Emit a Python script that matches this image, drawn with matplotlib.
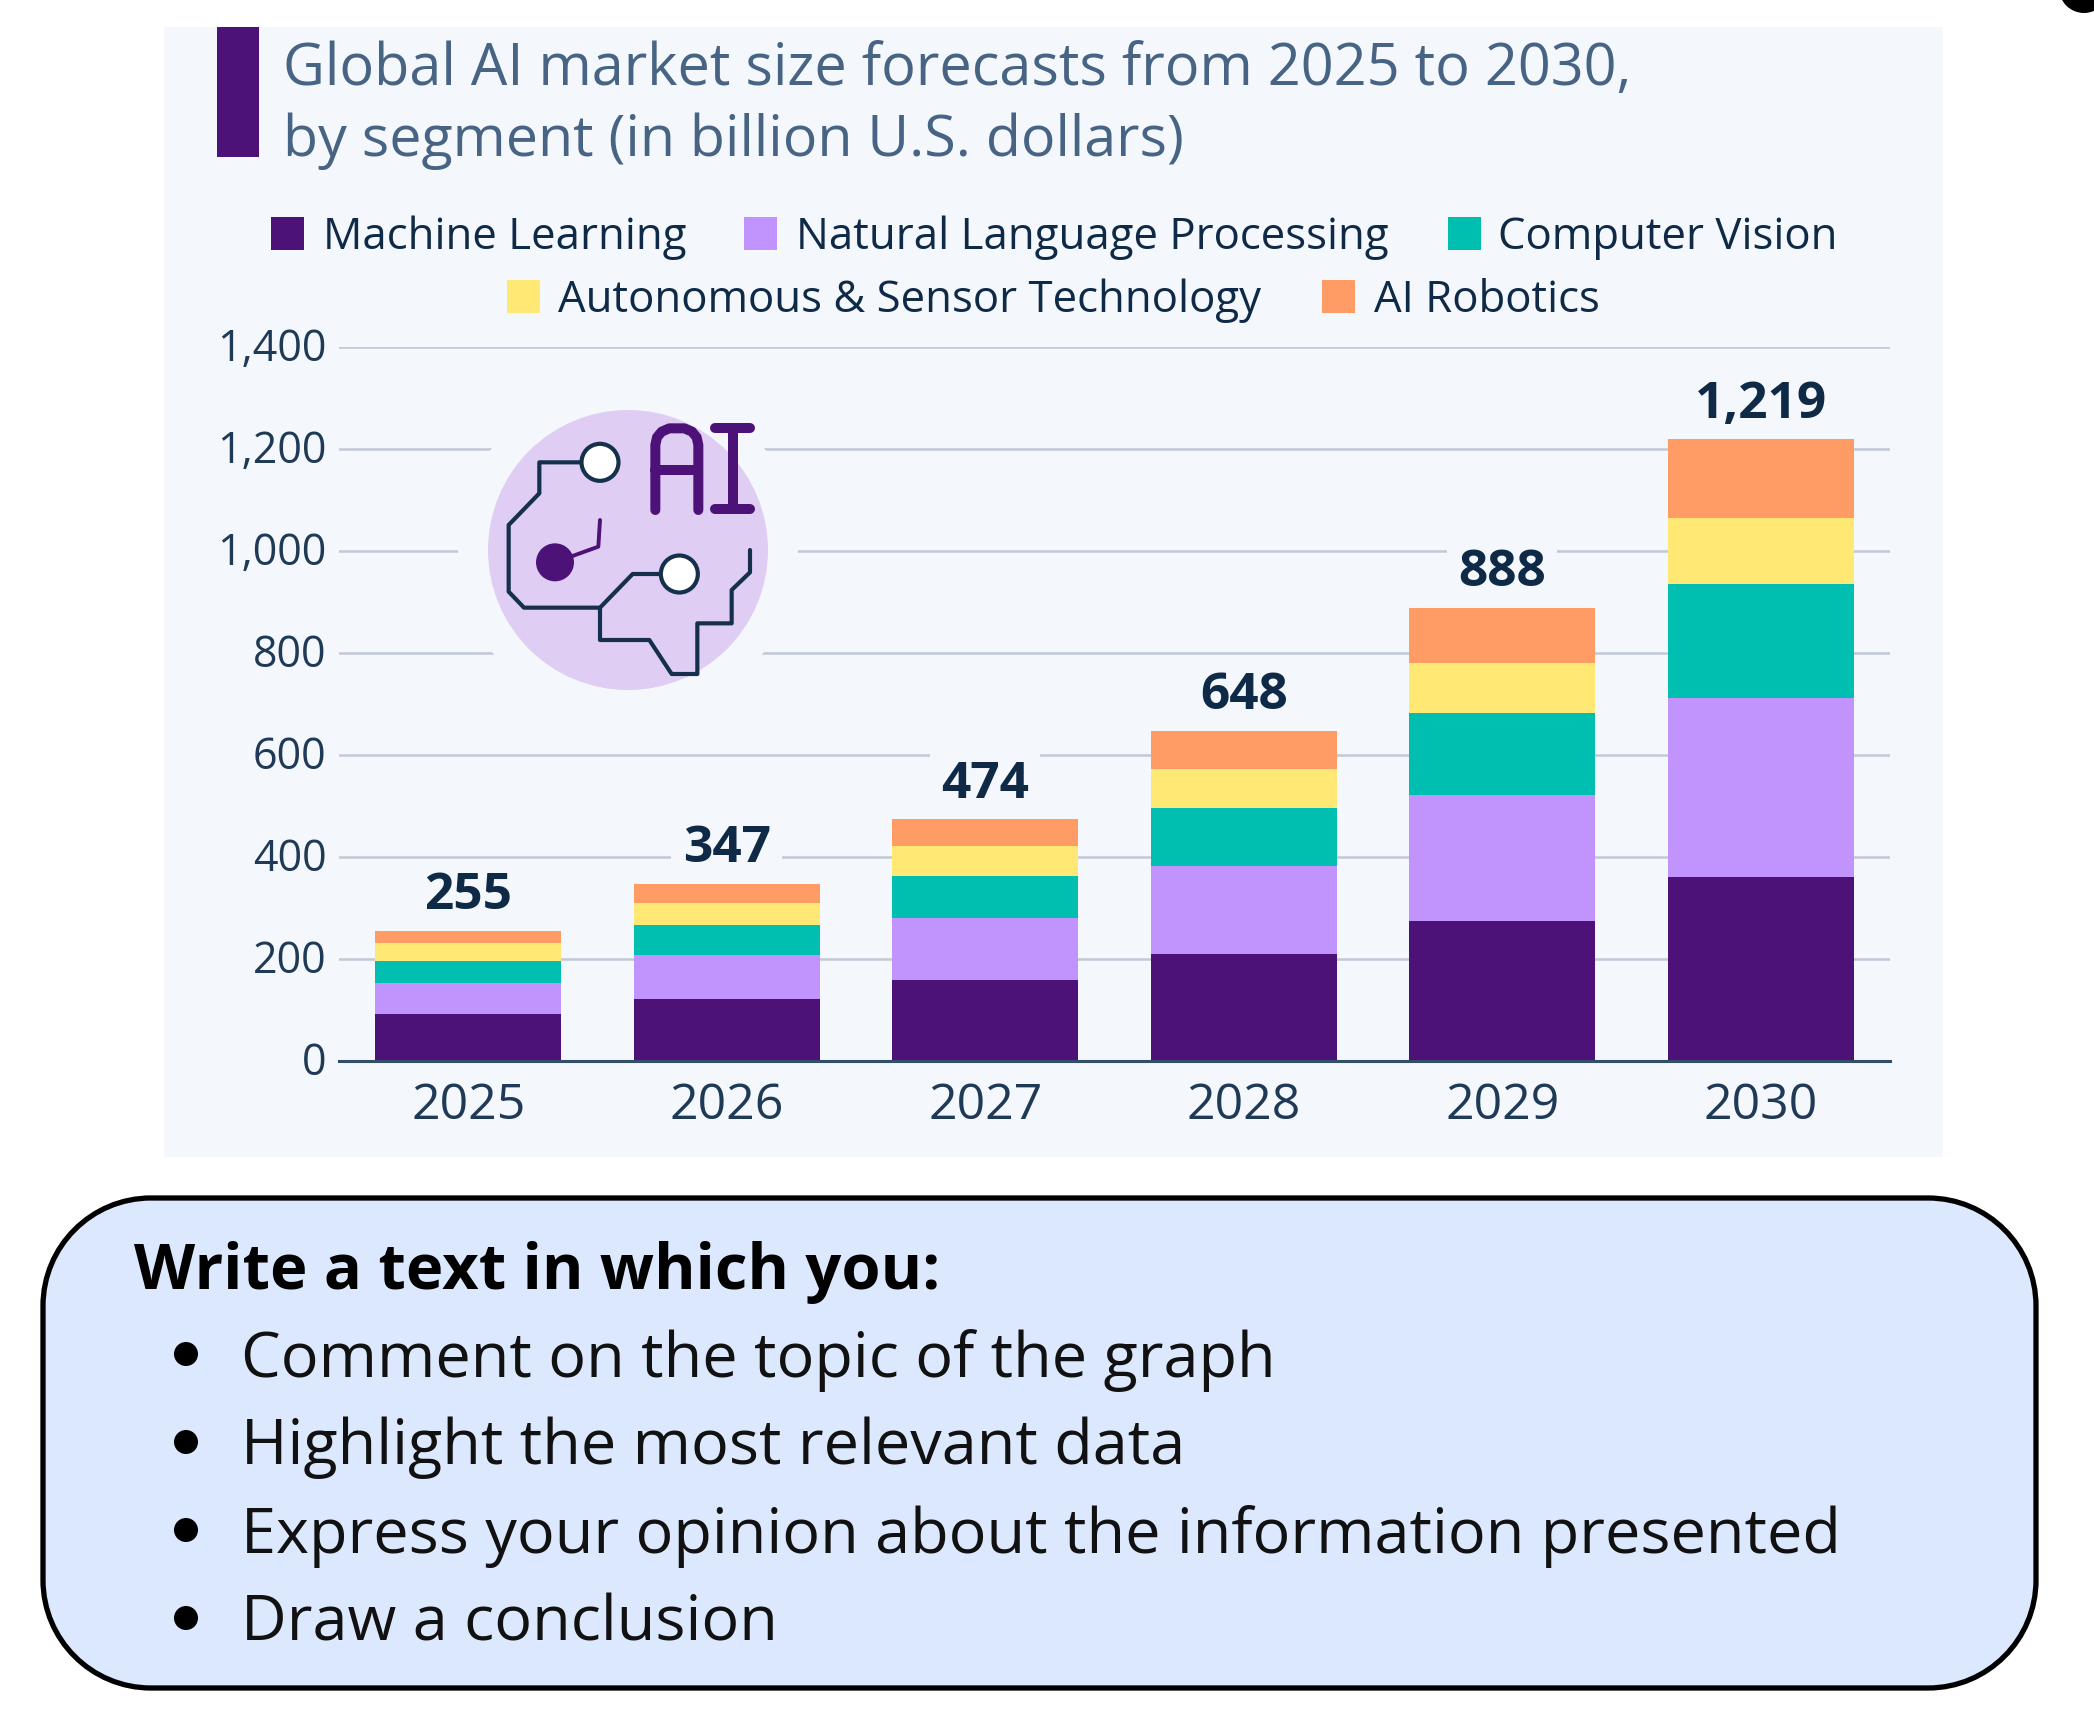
import matplotlib
matplotlib.use("Agg")
import matplotlib.pyplot as plt
from matplotlib.patches import Rectangle, Circle, PathPatch
from matplotlib.path import Path
from matplotlib.transforms import ScaledTranslation

W, H = 2094, 1723

years = ["2025", "2026", "2027", "2028", "2029", "2030"]
machine_learning = [92, 121, 158, 209, 275, 361]
nlp = [61, 86, 122, 173, 246, 350]
computer_vision = [43, 60, 83, 115, 161, 225]
autonomous = [35, 43, 59, 76, 99, 128]
robotics = [24, 37, 52, 75, 107, 155]
totals = [255, 347, 474, 648, 888, 1219]

series = [machine_learning, nlp, computer_vision, autonomous, robotics]
names = ["Machine Learning", "Natural Language Processing", "Computer Vision",
         "Autonomous & Sensor Technology", "AI Robotics"]
colors = ["#4d1278", "#c194fd", "#00bfb0", "#ffe873", "#ff9b65"]
yticks = [0, 200, 400, 600, 800, 1000, 1200, 1400]
bullets = ["Comment on the topic of the graph",
           "Highlight the most relevant data",
           "Express your opinion about the information presented",
           "Draw a conclusion"]

PANEL = "#f4f7fb"
DARK = "#0f2a46"
plt.rcParams["font.family"] = ["Open Sans", "DejaVu Sans"]

fig = plt.figure(figsize=(W / 100, H / 100), dpi=100, facecolor="white")


def pixel_axes(z):
    # axes covering the whole figure, in image pixels with y going down
    a = fig.add_axes([0, 0, 1, 1], zorder=z)
    a.set_xlim(0, W)
    a.set_ylim(H, 0)
    a.axis("off")
    return a


def round_box(x0, y0, x1, y1, r):
    # rectangle with true circular corners (bezier kappa)
    k = 0.5523 * r
    verts = [(x0 + r, y0), (x1 - r, y0),
             (x1 - r + k, y0), (x1, y0 + r - k), (x1, y0 + r),
             (x1, y1 - r),
             (x1, y1 - r + k), (x1 - r + k, y1), (x1 - r, y1),
             (x0 + r, y1),
             (x0 + r - k, y1), (x0, y1 - r + k), (x0, y1 - r),
             (x0, y0 + r),
             (x0, y0 + r - k), (x0 + r - k, y0), (x0 + r, y0),
             (x0 + r, y0)]
    codes = [Path.MOVETO, Path.LINETO,
             Path.CURVE4, Path.CURVE4, Path.CURVE4,
             Path.LINETO,
             Path.CURVE4, Path.CURVE4, Path.CURVE4,
             Path.LINETO,
             Path.CURVE4, Path.CURVE4, Path.CURVE4,
             Path.LINETO,
             Path.CURVE4, Path.CURVE4, Path.CURVE4,
             Path.CLOSEPOLY]
    return Path(verts, codes)


back = pixel_axes(0)
back.add_patch(Rectangle((164, 27), 1779, 1130, fc=PANEL, ec="none"))
back.add_patch(Rectangle((217, 27), 42, 130, fc=colors[0], ec="none"))
back.text(283, 70, "Global AI market size forecasts from 2025 to 2030,",
          fontsize=41.5, color="#476484", va="center")
back.text(283, 141, "by segment (in billion U.S. dollars)",
          fontsize=41.3, color="#476484", va="center")
back.add_patch(Circle((2084, -12), 25, fc="black", ec="none"))

# legend, two centred rows
legend_x = [(271, 323), (744, 796), (1448, 1498), (507, 558), (1322, 1374)]
legend_y = [234, 234, 234, 297, 297]
for name, col, (sx, tx), ly in zip(names, colors, legend_x, legend_y):
    back.add_patch(Rectangle((sx, ly - 17), 33, 33, fc=col, ec="none"))
    back.text(tx, ly + 4, name, fontsize=31.5, color=DARK, va="center")

# bottom box
back.add_patch(PathPatch(round_box(43, 1198, 2036, 1688, 108), fc="#dce8fe", ec="black", lw=3.8))
back.text(134, 1272, "Write a text in which you:", fontsize=45.5, fontweight="bold",
          color="black", va="center")
for i, b in enumerate(bullets):
    y = 1354 + i * 88
    back.add_patch(Circle((186, y), 12, fc="black", ec="none"))
    back.text(241, y + 6, b, fontsize=45.4, color="#111111", va="center")

# stacked bars
ax = fig.add_axes([339 / W, 1 - 1061 / H, (1890 - 339) / W, (1061 - 347) / H], zorder=1)
ax.patch.set_alpha(0)
x = range(len(years))
bottom = [0] * len(years)
for vals, col, name in zip(series, colors, names):
    ax.bar(x, vals, width=0.72, bottom=bottom, color=col, label=name, zorder=5)
    bottom = [b + v for b, v in zip(bottom, vals)]
for i, t in enumerate(totals):
    ax.annotate(f"{t:,}", (i, bottom[i]), xytext=(0, 7), textcoords="offset points",
                ha="center", va="bottom", fontsize=37, fontweight="bold", color=DARK, zorder=4,
                bbox=dict(fc=PANEL, ec="none", pad=8))
ax.set_xlim(-0.5, 5.5)
ax.set_ylim(0, 1400)
ax.set_xticks(list(x), years)
ax.set_yticks(yticks, [f"{v:,}" for v in yticks])
ax.tick_params(axis="x", length=0, labelsize=36, labelcolor="#1f3a56", pad=15)
ax.tick_params(axis="y", length=0, labelsize=31, labelcolor="#1f3a56", pad=9)
nudge = ScaledTranslation(0, 2 / 72, fig.dpi_scale_trans)
for lab in ax.get_yticklabels():
    lab.set_transform(lab.get_transform() + nudge)
ax.grid(axis="y", color="#c2c9d6", lw=1.8, zorder=1)
ax.set_axisbelow(True)
for s in ["top", "right", "left"]:
    ax.spines[s].set_visible(False)
ax.spines["bottom"].set_color("#334e68")
ax.spines["bottom"].set_linewidth(2.2)
ax.spines["bottom"].set_zorder(6)

# AI icon (crop origin 420,370, 3x)
icon = pixel_axes(2)
icon.patch.set_alpha(0)


def ip(pts):
    return [420 + p[0] / 3 for p in pts], [370 + p[1] / 3 for p in pts]


def trace(pts, col, lw):
    xs, ys = ip(pts)
    icon.plot(xs, ys, color=col, lw=lw, solid_capstyle="round", solid_joinstyle="round")


icon.add_patch(Circle((628, 550), 170, fc=PANEL, ec="none"))
icon.add_patch(Circle((628, 550), 140, fc="#dfcdf3", ec="none"))
line = "#15304d"
trace([(480, 277), (358, 277), (358, 370), (266, 465), (266, 665), (312, 713), (540, 713),
       (638, 612), (720, 612)], line, 3)
trace([(540, 713), (540, 810), (688, 810), (755, 912), (832, 912), (832, 760), (935, 760),
       (935, 660), (990, 607), (990, 540)], line, 3)
trace([(405, 577), (535, 530), (540, 450)], colors[0], 2.8)
trace([(706, 420), (706, 225), (711, 202), (725, 185), (748, 175), (793, 175), (816, 185),
       (830, 202), (835, 225), (835, 420)], colors[0], 7.2)
trace([(706, 300), (835, 300)], colors[0], 7.2)
trace([(885, 175), (990, 175)], colors[0], 7.2)
trace([(885, 418), (990, 418)], colors[0], 7.2)
trace([(938, 175), (938, 418)], colors[0], 7.2)
icon.add_patch(Circle((420 + 405 / 3, 370 + 577 / 3), 19, fc=colors[0], ec="none"))
for c in [(540, 277), (778, 612)]:
    icon.add_patch(Circle((420 + c[0] / 3, 370 + c[1] / 3), 18.5, fc="white", ec=line, lw=3))

fig.savefig("out.png", dpi=100, facecolor="white")
